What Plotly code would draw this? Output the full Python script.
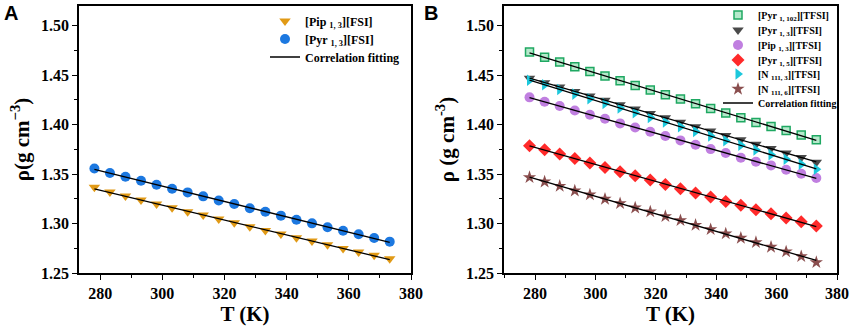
import numpy as np
import plotly.graph_objects as go

# ---------------- data ----------------
T = [278.15, 283.15, 288.15, 293.15, 298.15, 303.15, 308.15, 313.15, 318.15, 323.15,
     328.15, 333.15, 338.15, 343.15, 348.15, 353.15, 358.15, 363.15, 368.15, 373.15]

# Panel A
pip13_fsi = [1.3366, 1.3319, 1.3278, 1.3238, 1.3197, 1.3160, 1.3120, 1.3086, 1.3046, 1.3009,
             1.2968, 1.2931, 1.2894, 1.2857, 1.2823, 1.2786, 1.2749, 1.2712, 1.2679, 1.2645]
pyr13_fsi = [1.3556, 1.3511, 1.3474, 1.3433, 1.3393, 1.3352, 1.3315, 1.3275, 1.3234, 1.3197,
             1.3154, 1.3120, 1.3080, 1.3039, 1.3002, 1.2962, 1.2928, 1.2891, 1.2854, 1.2817]

# Panel B
pyr1102_tfsi = [1.4734, 1.4683, 1.4633, 1.4586, 1.4538, 1.4491, 1.4444, 1.4397, 1.4350, 1.4303,
                1.4259, 1.4212, 1.4164, 1.4117, 1.4070, 1.4023, 1.3982, 1.3942, 1.3895, 1.3848]
pyr13_tfsi = [1.4470, 1.4425, 1.4380, 1.4336, 1.4291, 1.4247, 1.4202, 1.4158, 1.4114, 1.4069,
              1.4025, 1.3980, 1.3936, 1.3891, 1.3847, 1.3802, 1.3758, 1.3713, 1.3669, 1.3620]
pip13_tfsi = [1.4276, 1.4232, 1.4188, 1.4144, 1.4100, 1.4060, 1.4013, 1.3972, 1.3929, 1.3885,
              1.3841, 1.3797, 1.3753, 1.3713, 1.3666, 1.3625, 1.3588, 1.3544, 1.3504, 1.3460]
pyr15_tfsi = [1.3787, 1.3747, 1.3703, 1.3659, 1.3612, 1.3568, 1.3524, 1.3484, 1.3440, 1.3396,
              1.3352, 1.3309, 1.3268, 1.3224, 1.3184, 1.3140, 1.3100, 1.3056, 1.3019, 1.2975]
n1113_tfsi = [1.4450, 1.4403, 1.4356, 1.4309, 1.4262, 1.4215, 1.4168, 1.4120, 1.4073, 1.4026,
              1.3979, 1.3932, 1.3885, 1.3838, 1.3791, 1.3744, 1.3697, 1.3650, 1.3600, 1.3550]
n1116_tfsi = [1.3467, 1.3423, 1.3379, 1.3332, 1.3292, 1.3248, 1.3204, 1.3160, 1.3120, 1.3073,
              1.3032, 1.2985, 1.2941, 1.2898, 1.2854, 1.2810, 1.2763, 1.2716, 1.2668, 1.2608]

x_ticks = [280, 300, 320, 340, 360, 380]
y_ticks = [1.25, 1.30, 1.35, 1.40, 1.45, 1.50]

# ---------------- styling ----------------
SERIF = "Liberation Serif"
W, H = 851, 327
fig = go.Figure()

def add_series(name, y, xa, ya, legend, symbol, color, size, line=None):
    mk = dict(symbol=symbol, color=color, size=size)
    mk["line"] = line if line else dict(width=0)
    fig.add_trace(go.Scatter(x=T, y=y, mode="markers", name=name, marker=mk,
                             xaxis=xa, yaxis=ya, legend=legend))

def add_fit(y, xa, ya, legend, show):
    k, b = np.polyfit(T, y, 1)
    yf = [k * t + b for t in T]
    fig.add_trace(go.Scatter(x=T, y=yf, mode="lines", name="Correlation fitting",
                             line=dict(color="black", width=1.3),
                             xaxis=xa, yaxis=ya, legend=legend, showlegend=show))

# Panel A (one legend box per entry so entries can sit close together)
add_series("[Pip <sub>1, 3</sub>][FSI]", pip13_fsi, "x", "y", "legend9",
           "triangle-down", "#E19A16", 10)
add_series("[Pyr <sub>1, 3</sub>][FSI]", pyr13_fsi, "x", "y", "legend10",
           "circle", "#1C78E0", 10)
add_fit(pip13_fsi, "x", "y", "legend11", True)
add_fit(pyr13_fsi, "x", "y", "legend11", False)

# Panel B
add_series("[Pyr <sub>1, 102</sub>][TFSI]", pyr1102_tfsi, "x2", "y2", "legend2",
           "square", "rgba(120,215,160,0.55)", 8, dict(color="#1FA862", width=1.5))
add_series("[Pyr <sub>1, 3</sub>][TFSI]", pyr13_tfsi, "x2", "y2", "legend3",
           "triangle-down", "#4A4A4A", 10)
add_series("[Pip <sub>1, 3</sub>][TFSI]", pip13_tfsi, "x2", "y2", "legend4",
           "circle", "#C07FE0", 10)
add_series("[Pyr <sub>1, 5</sub>][TFSI]", pyr15_tfsi, "x2", "y2", "legend5",
           "diamond", "#FF2A2A", 10)
add_series("[N <sub>111, 3</sub>][TFSI]", n1113_tfsi, "x2", "y2", "legend6",
           "triangle-right", "#1CC8DC", 10)
add_series("[N <sub>111, 6</sub>][TFSI]", n1116_tfsi, "x2", "y2", "legend7",
           "star", "#8A4E4E", 10)
for i, ys in enumerate([pyr1102_tfsi, pyr13_tfsi, pip13_tfsi, pyr15_tfsi, n1113_tfsi, n1116_tfsi]):
    add_fit(ys, "x2", "y2", "legend8", i == 0)

tickfont = dict(family=SERIF, size=16, color="black", weight="bold")
titlefont = dict(family=SERIF, size=21, color="black", weight="bold")

def xaxis(dom, rng):
    return dict(domain=dom, range=rng, tickvals=x_ticks, ticks="outside", ticklen=5,
                tickwidth=1.3, tickcolor="black", showline=True, linecolor="black",
                linewidth=1.5, mirror=True, showgrid=False, zeroline=False, automargin=False,
                tickfont=tickfont, title=dict(text="T (K)", font=titlefont, standoff=0),
                minor=dict(dtick=10, ticks="outside", ticklen=3, tickcolor="black", tickwidth=1.2))

def yaxis(anchor, title, dom):
    return dict(domain=dom, anchor=anchor, range=[1.25, 1.52], tickvals=y_ticks,
                tickformat=".2f", ticks="outside", ticklen=5, tickwidth=1.3, tickcolor="black",
                showline=True, linecolor="black", linewidth=1.5, mirror=True, showgrid=False,
                zeroline=False, automargin=False, tickfont=tickfont,
                title=dict(text=title, font=titlefont, standoff=6),
                minor=dict(dtick=0.025, ticks="outside", ticklen=3, tickcolor="black", tickwidth=1.2))

def legend_box(xpx, ypx, size):
    return dict(x=xpx / W, y=1 - ypx / H, xanchor="left", yanchor="middle",
                bgcolor="rgba(0,0,0,0)",
                font=dict(family=SERIF, size=size, color="black", weight="bold"),
                itemwidth=30, tracegroupgap=0)

ydom = [1 - 273 / H, 1 - 6 / H]
layout = dict(
    template="none",
    width=W, height=H, margin=dict(l=0, r=0, t=0, b=0, autoexpand=False),
    paper_bgcolor="white", plot_bgcolor="white",
    xaxis=xaxis([79 / W, 411 / W], [273.2, 380]),
    yaxis=yaxis("x", "ρ(g cm<sup>−3</sup>)", ydom),
    xaxis2=dict(xaxis([504 / W, 837 / W], [269.7, 380]), anchor="y2"),
    yaxis2=yaxis("x2", "ρ (g cm<sup>-3</sup>)", ydom),
    annotations=[
        dict(text="<b>A</b>", x=2 / W, y=1.0, xref="paper", yref="paper", xanchor="left",
             yanchor="top", showarrow=False, font=dict(family="Liberation Sans", size=20, color="black")),
        dict(text="<b>B</b>", x=422 / W, y=1.0, xref="paper", yref="paper", xanchor="left",
             yanchor="top", showarrow=False, font=dict(family="Liberation Sans", size=20, color="black")),
    ],
)
# panel A legend rows
for name, yc in zip(["legend9", "legend10", "legend11"], [21, 39, 57]):
    layout[name] = legend_box(265, yc, 12)
# panel B legend rows
legend_rows = [15, 30, 45, 60, 74, 89, 103]
for i, yc in enumerate(legend_rows):
    layout["legend%d" % (i + 2)] = legend_box(718, yc, 10)
fig.update_layout(**layout)

fig.write_html("out.html", config={"displayModeBar": False},
               post_script="document.body.style.margin='0';document.body.style.padding='0';")
